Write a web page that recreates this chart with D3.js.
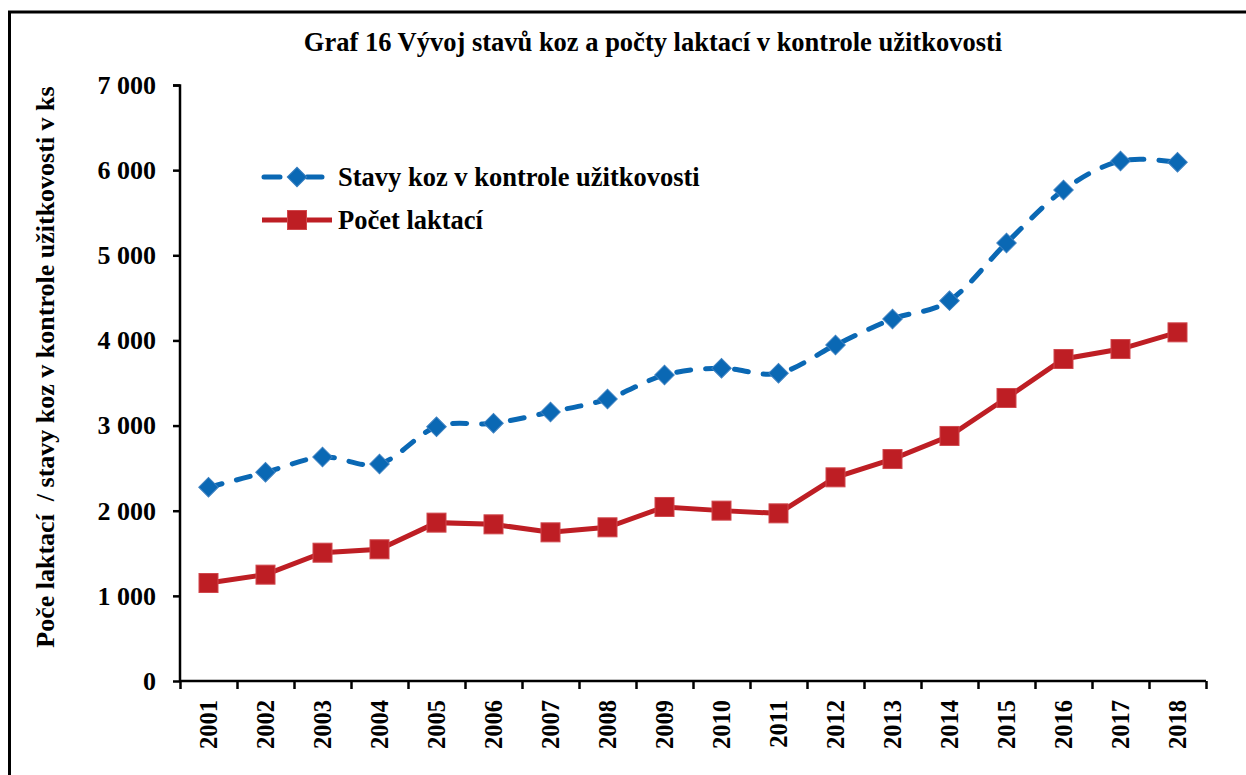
<!DOCTYPE html>
<html>
<head>
<meta charset="utf-8">
<script src="https://cdn.jsdelivr.net/npm/d3@7"></script>
<style>
  body { margin: 0; background: #fff; }
  text { font-family: "Liberation Serif", "Times New Roman", serif; font-weight: bold; }
</style>
</head>
<body>
<div id="chart"></div>
<script>
var years = ["2001", "2002", "2003", "2004", "2005", "2006", "2007", "2008", "2009",
             "2010", "2011", "2012", "2013", "2014", "2015", "2016", "2017", "2018"];
var stavyKoz = [2275, 2451, 2631, 2549, 2987, 3027, 3160, 3312, 3594,
                3673, 3614, 3946, 4252, 4467, 5144, 5767, 6107, 6092];
var pocetLaktaci = [1151, 1249, 1507, 1547, 1860, 1840, 1746, 1805, 2044,
                    2001, 1969, 2392, 2607, 2878, 3324, 3782, 3899, 4095];
var yTicks = [0, 1000, 2000, 3000, 4000, 5000, 6000, 7000];

function init() {
    var w = 1246;
    var h = 775;
    var margin = { top: 85, right: 40, bottom: 94, left: 180 };
    var innerWidth = 1206 - margin.left;
    var innerHeight = h - margin.top - margin.bottom;

    var svg = d3.select("#chart")
        .append("svg")
        .attr("width", w)
        .attr("height", h);

    // frame around the whole chart (runs off right and bottom)
    svg.append("rect")
        .attr("x", 9.5).attr("y", 12)
        .attr("width", 1300).attr("height", 900)
        .attr("fill", "none")
        .attr("stroke", "#000")
        .attr("stroke-width", 3);

    svg.append("text")
        .attr("x", 653).attr("y", 51)
        .attr("text-anchor", "middle")
        .style("font-size", "26.5px")
        .text("Graf 16 Vývoj stavů koz a počty laktací v kontrole užitkovosti");

    var g = svg.append("g")
        .attr("transform", "translate(" + margin.left + "," + margin.top + ")");

    var xScale = d3.scaleBand()
        .domain(years)
        .range([0, innerWidth]);

    var yScale = d3.scaleLinear()
        .domain([0, 7000])
        .range([innerHeight, 0]);

    var fmt = function(d) { return d3.format(",")(d).replace(/,/g, " "); };

    // y axis
    var yAxis = g.append("g")
        .call(d3.axisLeft(yScale).tickValues(yTicks).tickSize(7).tickPadding(17).tickFormat(fmt));
    yAxis.select(".domain").attr("stroke-width", 2.5).attr("d", "M-7,0.5H0V" + innerHeight);
    yAxis.selectAll(".tick line").attr("stroke-width", 2.5);
    yAxis.selectAll(".tick text")
        .style("font-size", "26px")
        .style("font-family", "Liberation Serif")
        .style("font-weight", "bold")
        .attr("fill", "#000");

    // x axis: boundary ticks
    var edge = d3.scaleLinear().domain([0, years.length]).range([0, innerWidth]);
    var xEdges = g.append("g")
        .attr("transform", "translate(0," + innerHeight + ")")
        .call(d3.axisBottom(edge).tickValues(d3.range(years.length + 1)).tickSize(8).tickFormat(""));
    xEdges.select(".domain").attr("stroke-width", 2.5).attr("d", "M0,0H" + innerWidth);
    xEdges.selectAll(".tick line").attr("stroke-width", 2.5);

    // x axis: labels
    var xAxis = g.append("g")
        .attr("transform", "translate(0," + innerHeight + ")")
        .call(d3.axisBottom(xScale).tickSize(0));
    xAxis.select(".domain").remove();
    xAxis.selectAll(".tick text")
        .attr("transform", "rotate(-90)")
        .attr("x", -19)
        .attr("y", 0)
        .attr("dy", "0.35em")
        .attr("text-anchor", "end")
        .style("font-size", "24.5px")
        .style("font-family", "Liberation Serif")
        .style("font-weight", "bold")
        .attr("fill", "#000");

    // y axis title
    svg.append("text")
        .attr("transform", "translate(54,367) rotate(-90)")
        .attr("text-anchor", "middle")
        .style("font-size", "26px")
        .style("white-space", "pre")
        .text("Poče laktací  / stavy koz v kontrole užitkovosti v ks");

    var xc = function(d, i) { return xScale(years[i]) + xScale.bandwidth() / 2; };

    var blue = "#0a68b4";
    var red = "#be1e24";

    // Stavy koz - smoothed dashed line
    var blueLine = d3.line()
        .x(xc)
        .y(function(d) { return yScale(d); })
        .curve(d3.curveCardinal);
    g.append("path")
        .datum(stavyKoz)
        .attr("d", blueLine)
        .attr("fill", "none")
        .attr("stroke", blue)
        .attr("stroke-width", 5)
        .attr("stroke-linecap", "round")
        .attr("stroke-dasharray", "14,15");

    // Pocet laktaci - straight line
    var redLine = d3.line()
        .x(xc)
        .y(function(d) { return yScale(d); });
    g.append("path")
        .datum(pocetLaktaci)
        .attr("d", redLine)
        .attr("fill", "none")
        .attr("stroke", red)
        .attr("stroke-width", 5);

    g.selectAll(".diamond")
        .data(stavyKoz)
        .enter()
        .append("path")
        .attr("class", "diamond")
        .attr("d", d3.symbol().type(d3.symbolSquare).size(190))
        .attr("transform", function(d, i) {
            return "translate(" + xc(d, i) + "," + yScale(d) + ") rotate(45)";
        })
        .attr("fill", blue)
        .attr("stroke", "#3a7fc0")
        .attr("stroke-width", 1);

    g.selectAll(".square")
        .data(pocetLaktaci)
        .enter()
        .append("rect")
        .attr("class", "square")
        .attr("x", function(d, i) { return xc(d, i) - 9.5; })
        .attr("y", function(d) { return yScale(d) - 9.5; })
        .attr("width", 19)
        .attr("height", 19)
        .attr("fill", red)
        .attr("stroke", "#d0474c")
        .attr("stroke-width", 1);

    // legend
    var legend = svg.append("g");
    legend.append("line")
        .attr("x1", 264).attr("x2", 322).attr("y1", 177).attr("y2", 177)
        .attr("stroke", blue).attr("stroke-width", 5)
        .attr("stroke-linecap", "round").attr("stroke-dasharray", "16,27");
    legend.append("path")
        .attr("d", d3.symbol().type(d3.symbolSquare).size(190))
        .attr("transform", "translate(297,177) rotate(45)")
        .attr("fill", blue).attr("stroke", "#3a7fc0");
    legend.append("text")
        .attr("x", 338).attr("y", 186)
        .style("font-size", "26.5px")
        .text("Stavy koz v kontrole užitkovosti");

    legend.append("line")
        .attr("x1", 262).attr("x2", 332).attr("y1", 220).attr("y2", 220)
        .attr("stroke", red).attr("stroke-width", 5);
    legend.append("rect")
        .attr("x", 287.5).attr("y", 210.5).attr("width", 19).attr("height", 19)
        .attr("fill", red).attr("stroke", "#d0474c");
    legend.append("text")
        .attr("x", 338).attr("y", 229)
        .style("font-size", "26.5px")
        .text("Počet laktací");
}

window.onload = init;
</script>
</body>
</html>
